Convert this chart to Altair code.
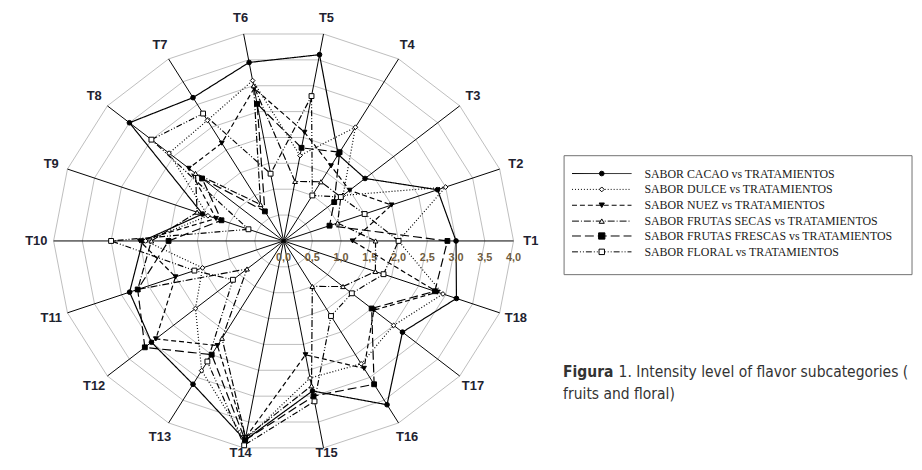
import altair as alt
import pandas as pd

# ---------------- data ----------------
treatments = ["T1", "T2", "T3", "T4", "T5", "T6", "T7", "T8", "T9",
              "T10", "T11", "T12", "T13", "T14", "T15", "T16", "T17", "T18"]

series_names = [
    "SABOR CACAO vs TRATAMIENTOS",
    "SABOR DULCE vs TRATAMIENTOS",
    "SABOR NUEZ vs TRATAMIENTOS",
    "SABOR FRUTAS SECAS vs TRATAMIENTOS",
    "SABOR FRUTAS FRESCAS vs TRATAMIENTOS",
    "SABOR FLORAL vs TRATAMIENTOS",
]

cacao   = [3.0, 2.85, 1.85, 1.9, 3.6, 3.45, 3.15, 3.5, 1.5, 2.45, 2.85, 3.0, 3.15, 3.85, 2.9, 3.6, 2.7, 3.2]
dulce   = [2.0, 3.0, 1.35, 2.5, 1.65, 3.1, 2.65, 2.6, 1.4, 2.4, 1.5, 2.0, 2.85, 3.85, 2.65, 2.7, 2.5, 2.95]
nuez    = [1.2, 2.0, 1.5, 1.65, 2.1, 2.95, 2.15, 2.15, 1.25, 2.5, 2.0, 2.9, 2.3, 3.8, 2.2, 2.8, 2.05, 2.85]
secas   = [1.6, 1.0, 1.3, 1.3, 1.15, 3.0, 0.8, 2.0, 1.6, 2.3, 2.7, 0.83, 2.14, 3.8, 2.8, 1.0, 1.35, 1.7]
frescas = [2.85, 0.85, 1.15, 1.95, 1.8, 2.65, 0.65, 1.85, 1.15, 2.0, 2.7, 3.15, 2.5, 3.85, 3.0, 3.15, 2.0, 2.8]
floral  = [2.0, 1.5, 1.3, 1.0, 2.8, 1.3, 2.8, 3.0, 0.65, 3.0, 1.65, 1.15, 2.65, 3.95, 3.1, 1.65, 1.55, 1.85]

ring_levels = [0.5, 1.0, 1.5, 2.0, 2.5, 3.0, 3.5, 4.0]
tick_values = [0.0, 0.5, 1.0, 1.5, 2.0, 2.5, 3.0, 3.5, 4.0]
tick_labels = ["0,0", "0,5", "1,0", "1,5", "2,0", "2,5", "3,0", "3,5", "4,0"]

caption_bold = "Figura"
caption_line1 = "1. Intensity level of flavor subcategories ("
caption_line2 = "fruits and floral)"

# ---------------- styles ----------------
dash_styles = [[1, 0], [1, 2], [5, 3], [7, 2, 1, 2], [9, 4], [6, 2, 1, 2, 1, 2]]
shapes = ["circle", "diamond", "triangle-down", "triangle-up", "square", "square"]
fills = ["black", "white", "black", "white", "black", "white"]
sizes = [22, 24, 28, 26, 40, 30]

W, H = 914, 454
CX, CY = 278.0, 233.0      # centre of the radar (px inside chart)
SX, SY = 58.0, 53.0        # px per unit horizontally / vertically
LABEL_R = 4.3
LABEL_MIN_Y = -4.04        # keeps the bottom labels inside the page

xs = alt.Scale(domain=[-CX / SX, (W - CX) / SX], nice=False, zero=False)
ys = alt.Scale(domain=[-(H - CY) / SY, CY / SY], nice=False, zero=False)

n = len(treatments)
ang = "datum.idx * 2 * PI / %d" % n

# ---------------- tables ----------------
all_vals = [cacao, dulce, nuez, secas, frescas, floral]
rec = []
for name, vals in zip(series_names, all_vals):
    for i in range(n + 1):
        rec.append({"series": name, "idx": i % n, "ord": i, "value": vals[i % n]})
df = pd.DataFrame(rec)

grid_rec = []
for lv in ring_levels:
    for i in range(n + 1):
        grid_rec.append({"level": lv, "idx": i % n, "ord": i})
df_grid = pd.DataFrame(grid_rec)

df_axes = pd.DataFrame({"idx": list(range(n)), "label": treatments})
df_ticks = pd.DataFrame({"v": tick_values, "label": tick_labels})

X = lambda f: alt.X(f, scale=xs, axis=None)
Y = lambda f: alt.Y(f, scale=ys, axis=None)

grid = alt.Chart(df_grid).transform_calculate(
    px="datum.level * cos(%s)" % ang, py="datum.level * sin(%s)" % ang
).mark_line(color="#bdbdbd", strokeWidth=1).encode(
    x=X("px:Q"), y=Y("py:Q"), detail="level:N", order="ord:Q"
)

spokes = alt.Chart(df_axes).transform_calculate(
    px="4 * cos(%s)" % ang, py="4 * sin(%s)" % ang, z="0"
).mark_rule(color="black", strokeWidth=1).encode(
    x=X("z:Q"), y=Y("z:Q"), x2="px:Q", y2="py:Q"
)

lines = alt.Chart(df).transform_calculate(
    px="datum.value * cos(%s)" % ang, py="datum.value * sin(%s)" % ang
).mark_line(color="black", strokeWidth=1.2).encode(
    x=X("px:Q"), y=Y("py:Q"), detail="series:N", order="ord:Q",
    strokeDash=alt.StrokeDash("series:N", scale=alt.Scale(domain=series_names, range=dash_styles), legend=None),
)

points = alt.Chart(df).transform_filter("datum.ord < %d" % n).transform_calculate(
    px="datum.value * cos(%s)" % ang, py="datum.value * sin(%s)" % ang
).mark_point(filled=True, stroke="black", strokeWidth=1, opacity=1).encode(
    x=X("px:Q"), y=Y("py:Q"),
    shape=alt.Shape("series:N", scale=alt.Scale(domain=series_names, range=shapes), legend=None),
    fill=alt.Fill("series:N", scale=alt.Scale(domain=series_names, range=fills), legend=None),
    size=alt.Size("series:N", scale=alt.Scale(domain=series_names, range=sizes), legend=None),
)

axis_labels = alt.Chart(df_axes).transform_calculate(
    px="%f * cos(%s)" % (LABEL_R, ang),
    py="max(%f * sin(%s), %f)" % (LABEL_R, ang, LABEL_MIN_Y)
).mark_text(font="Liberation Sans", fontSize=13, fontWeight="bold", color="#1e2230",
            align="center", baseline="middle").encode(
    x=X("px:Q"), y=Y("py:Q"), text="label:N"
)

tick_text = alt.Chart(df_ticks).transform_calculate(z="0").mark_text(
    font="Liberation Sans", fontSize=11, fontWeight="bold", color="#6f5c40",
    align="center", baseline="middle", dy=17
).encode(x=X("v:Q"), y=Y("z:Q"), text="label:N")

layers = [grid, spokes, lines, points, axis_labels, tick_text]

# ---------------- legend (drawn by hand, like the original box) ----------------
one = pd.DataFrame({"k": [0]})
layers.append(
    alt.Chart(one).mark_rect(fill="white", stroke="#707070", strokeWidth=1).encode(
        x=alt.value(561), x2=alt.value(912), y=alt.value(147), y2=alt.value(267))
)
row_y = [165, 181, 197, 213, 228, 244]
for i, name in enumerate(series_names):
    yy = row_y[i]
    layers.append(
        alt.Chart(one).mark_rule(color="black", strokeWidth=1, strokeDash=dash_styles[i]).encode(
            x=alt.value(569), x2=alt.value(629), y=alt.value(yy))
    )
    layers.append(
        alt.Chart(one).mark_point(shape=shapes[i], filled=True, fill=fills[i], stroke="black",
                                  strokeWidth=1, opacity=1, size=sizes[i]).encode(
            x=alt.value(599), y=alt.value(yy))
    )
    layers.append(
        alt.Chart(one).mark_text(text=name, font="Liberation Serif", fontSize=12, color="#1a1a1a",
                                 align="left", baseline="middle").encode(
            x=alt.value(642), y=alt.value(yy))
    )

# ---------------- caption ----------------
cap_font = "Liberation Sans Narrow, DejaVu Sans Condensed, Roboto, sans-serif"
layers.append(
    alt.Chart(one).mark_text(text=caption_bold, font=cap_font, fontSize=15.6, fontWeight="bold",
                             color="#333", align="left", baseline="alphabetic").encode(
        x=alt.value(560), y=alt.value(370))
)
layers.append(
    alt.Chart(one).mark_text(text=caption_line1, font=cap_font, fontSize=15.6,
                             color="#333", align="left", baseline="alphabetic").encode(
        x=alt.value(616), y=alt.value(370))
)
layers.append(
    alt.Chart(one).mark_text(text=caption_line2, font=cap_font, fontSize=15.6,
                             color="#333", align="left", baseline="alphabetic").encode(
        x=alt.value(560), y=alt.value(392))
)

chart = alt.layer(*layers).properties(
    width=W, height=H, autosize=alt.AutoSizeParams(type="none"), padding=0
).configure_view(stroke=None)

chart.save("out.html", embed_options={"renderer": "svg", "actions": False})
